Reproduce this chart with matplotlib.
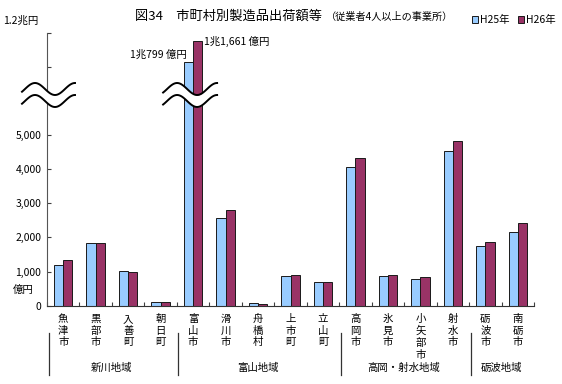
import numpy as np
import matplotlib
matplotlib.use("Agg")
import matplotlib.pyplot as plt

plt.rcParams['font.family'] = ['Noto Sans CJK JP', 'DejaVu Sans']

# data (億円)
cities = ['魚津市', '黒部市', '入善町', '朝日町', '富山市', '滑川市', '舟橋村', '上市町',
          '立山町', '高岡市', '氷見市', '小矢部市', '射水市', '砺波市', '南砺市']
h25 = [1190, 1840, 1020, 115, 10799, 2550, 70, 870, 685, 4050, 865, 770, 4515, 1755, 2145]
h26 = [1330, 1840, 995, 110, 11661, 2810, 50, 905, 700, 4320, 885, 845, 4815, 1870, 2425]
groups = ['新川地域', '富山地域', '高岡・射水地域', '砺波地域']
group_sizes = [4, 5, 4, 2]
series_names = ['H25年', 'H26年']
yticks_low = [0, 1000, 2000, 3000, 4000, 5000]

# broken y scale: identity below the break, compressed above it
BREAK = 6300.0
TOP_VAL = 12000.0
TOP_DISP = 7974.0
K = 0.7


def fwd(v):
    v = np.asarray(v, dtype=float)
    upper = TOP_DISP - (TOP_VAL - v) * K
    return np.where(v <= BREAK, v, np.maximum(upper, BREAK))


def inv(d):
    d = np.asarray(d, dtype=float)
    return np.where(d <= BREAK, d, TOP_VAL - (TOP_DISP - d) / K)


W, H = 562, 384
fig = plt.figure(figsize=(W / 100, H / 100), dpi=100)
ax = fig.add_axes([47 / W, (H - 305.7) / H, (534 - 47) / W, (305.7 - 33) / H])
ax.set_yscale('function', functions=(fwd, inv))

x = np.arange(len(cities))
bw = 0.285
b1 = ax.bar(x - bw / 2, h25, bw, color='#99CCFF', edgecolor='#1a1a1a', linewidth=0.7, label=series_names[0])
b2 = ax.bar(x + bw / 2, h26, bw, color='#993366', edgecolor='#1a1a1a', linewidth=0.7, label=series_names[1])

ax.set_xlim(-0.5, len(cities) - 0.5)
ax.set_ylim(0, TOP_VAL)
top_ticks = [float(inv(TOP_DISP - 1000)), TOP_VAL]
ax.set_yticks(yticks_low + top_ticks)
ax.set_yticklabels([f'{v:,}' for v in yticks_low] + ['', ''], fontsize=7.5)
ax.yaxis.set_minor_locator(matplotlib.ticker.NullLocator())
ax.set_xticks(np.arange(len(cities) + 1) - 0.5)
ax.set_xticklabels([])
ax.tick_params(axis='both', direction='in', length=3, width=0.8, color='#404040', pad=4)
for s in ['top', 'right']:
    ax.spines[s].set_visible(False)
ax.spines['left'].set_color('#555555')
ax.spines['bottom'].set_color('#333333')

tr = ax.get_xaxis_transform()
for i, name in enumerate(cities):
    ax.text(i, -0.03, '\n'.join(name), transform=tr, ha='center', va='top',
            fontsize=7.5, linespacing=1.22)

start = 0
for g, n in zip(groups, group_sizes):
    ax.text(start + (n - 1) / 2, -0.228, g, transform=tr, ha='center', va='center', fontsize=7.5)
    ax.plot([start - 0.5 + 0.05, start - 0.5 + 0.05], [-0.1, -0.254], transform=tr,
            color='#333333', lw=0.9, clip_on=False)
    start += n

# labels on the Toyama bars
itoyama = cities.index('富山市')
ax.annotate('1兆799 億円', (itoyama - bw, h25[itoyama]), xytext=(2, 5), textcoords='offset points',
            ha='right', va='center', fontsize=7.5)
ax.annotate('1兆1,661 億円', (itoyama + bw, h26[itoyama]), xytext=(1, 0), textcoords='offset points',
            ha='left', va='center', fontsize=7.5)

fig.text(3 / W, 1 - 21 / H, '1.2兆円', fontsize=7.5, ha='left', va='center')
fig.text(23 / W, 1 - 290 / H, '億円', fontsize=7.5, ha='center', va='center')

fig.text(135 / W, 1 - 16 / H, '図34　市町村別製造品出荷額等', fontsize=9.5, ha='left', va='center')
fig.text(326 / W, 1 - 17 / H, '（従業者4人以上の事業所）', fontsize=7.3, ha='left', va='center')

ax.legend(handles=[b1, b2], loc='center', bbox_to_anchor=(514 / W, 1 - 20 / H),
          bbox_transform=fig.transFigure, ncol=2, frameon=False, fontsize=7.5,
          handlelength=0.6, handleheight=0.6, handletextpad=0.2, columnspacing=0.8)

# break marks (pixel coords on an overlay)
ov = fig.add_axes([0, 0, 1, 1], zorder=10)
ov.set_xlim(0, W)
ov.set_ylim(H, 0)
ov.axis('off')
ov.patch.set_alpha(0)

fig.canvas.draw()
px_toy = ax.transData.transform((itoyama, 0))[0]


def squiggle(x_start, x_end, x0):
    xs = np.linspace(x_start, x_end, 80)
    up = 89 - 6 * np.sin(2 * np.pi * (xs - x0) / 40)
    lo = up + 12
    ov.fill_between(xs, up, lo, color='white', lw=0)
    ov.plot(xs, up, color='black', lw=1.4)
    ov.plot(xs, lo, color='black', lw=1.4)


squiggle(22, 75, 25)
squiggle(px_toy - 30, px_toy + 24, px_toy - 26)

fig.savefig('out.png', dpi=100)
